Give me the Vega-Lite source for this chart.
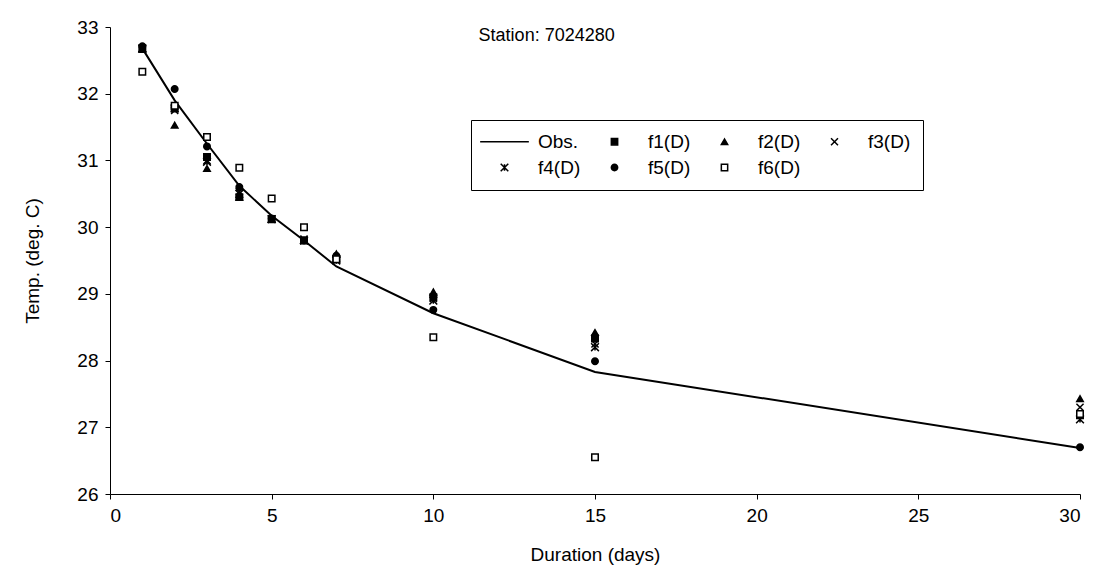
{
  "$schema": "https://vega.github.io/schema/vega-lite/v6.json",
  "width": 970,
  "height": 467,
  "autosize": {"type": "none"},
  "padding": {"left": 110, "top": 27, "right": 13, "bottom": 79},
  "background": "white",
  "config": {
    "view": {"stroke": null},
    "font": "Liberation Sans",
    "axis": {
      "domainColor": "black", "tickColor": "black", "grid": false,
      "labelFont": "Liberation Sans", "labelFontSize": 19, "labelColor": "black",
      "titleFont": "Liberation Sans", "titleFontSize": 19, "titleFontWeight": "normal", "titleColor": "black",
      "tickSize": 5
    },
    "legend": {"labelFont": "Liberation Sans", "labelFontSize": 19, "labelColor": "black"}
  },
  "datasets": {
    "obs": [
      {"day": 1, "temp": 32.68}, {"day": 2, "temp": 31.9}, {"day": 3, "temp": 31.25},
      {"day": 4, "temp": 30.62}, {"day": 5, "temp": 30.17}, {"day": 6, "temp": 29.8},
      {"day": 7, "temp": 29.41}, {"day": 10, "temp": 28.71}, {"day": 15, "temp": 27.83},
      {"day": 30, "temp": 26.69}
    ],
    "fits": [
      {"series": "f1(D)", "day": 1, "temp": 32.67}, {"series": "f1(D)", "day": 2, "temp": 31.78},
      {"series": "f1(D)", "day": 3, "temp": 31.05}, {"series": "f1(D)", "day": 4, "temp": 30.45},
      {"series": "f1(D)", "day": 5, "temp": 30.12}, {"series": "f1(D)", "day": 6, "temp": 29.8},
      {"series": "f1(D)", "day": 7, "temp": 29.52}, {"series": "f1(D)", "day": 10, "temp": 28.95},
      {"series": "f1(D)", "day": 15, "temp": 28.33}, {"series": "f1(D)", "day": 30, "temp": 27.18},
      {"series": "f2(D)", "day": 1, "temp": 32.67}, {"series": "f2(D)", "day": 2, "temp": 31.53},
      {"series": "f2(D)", "day": 3, "temp": 30.88}, {"series": "f2(D)", "day": 4, "temp": 30.45},
      {"series": "f2(D)", "day": 5, "temp": 30.12}, {"series": "f2(D)", "day": 6, "temp": 29.8},
      {"series": "f2(D)", "day": 7, "temp": 29.6}, {"series": "f2(D)", "day": 10, "temp": 29.03},
      {"series": "f2(D)", "day": 15, "temp": 28.42}, {"series": "f2(D)", "day": 30, "temp": 27.43},
      {"series": "f3(D)", "day": 1, "temp": 32.68}, {"series": "f3(D)", "day": 2, "temp": 31.75},
      {"series": "f3(D)", "day": 3, "temp": 31.0}, {"series": "f3(D)", "day": 4, "temp": 30.53},
      {"series": "f3(D)", "day": 5, "temp": 30.12}, {"series": "f3(D)", "day": 6, "temp": 29.82},
      {"series": "f3(D)", "day": 7, "temp": 29.53}, {"series": "f3(D)", "day": 10, "temp": 28.93},
      {"series": "f3(D)", "day": 15, "temp": 28.25}, {"series": "f3(D)", "day": 30, "temp": 27.3},
      {"series": "f4(D)", "day": 1, "temp": 32.68}, {"series": "f4(D)", "day": 2, "temp": 31.78},
      {"series": "f4(D)", "day": 3, "temp": 30.98}, {"series": "f4(D)", "day": 4, "temp": 30.5},
      {"series": "f4(D)", "day": 5, "temp": 30.12}, {"series": "f4(D)", "day": 6, "temp": 29.8},
      {"series": "f4(D)", "day": 7, "temp": 29.5}, {"series": "f4(D)", "day": 10, "temp": 28.9},
      {"series": "f4(D)", "day": 15, "temp": 28.2}, {"series": "f4(D)", "day": 30, "temp": 27.12},
      {"series": "f5(D)", "day": 1, "temp": 32.71}, {"series": "f5(D)", "day": 2, "temp": 32.07},
      {"series": "f5(D)", "day": 3, "temp": 31.21}, {"series": "f5(D)", "day": 4, "temp": 30.6},
      {"series": "f5(D)", "day": 5, "temp": 30.13}, {"series": "f5(D)", "day": 6, "temp": 29.8},
      {"series": "f5(D)", "day": 7, "temp": 29.57}, {"series": "f5(D)", "day": 10, "temp": 28.76},
      {"series": "f5(D)", "day": 15, "temp": 27.99}, {"series": "f5(D)", "day": 30, "temp": 26.7},
      {"series": "f6(D)", "day": 1, "temp": 32.33}, {"series": "f6(D)", "day": 2, "temp": 31.82},
      {"series": "f6(D)", "day": 3, "temp": 31.35}, {"series": "f6(D)", "day": 4, "temp": 30.89},
      {"series": "f6(D)", "day": 5, "temp": 30.43}, {"series": "f6(D)", "day": 6, "temp": 30.0},
      {"series": "f6(D)", "day": 7, "temp": 29.52}, {"series": "f6(D)", "day": 10, "temp": 28.35},
      {"series": "f6(D)", "day": 15, "temp": 26.55}, {"series": "f6(D)", "day": 30, "temp": 27.2}
    ],
    "note": [{"label": "Station: 7024280", "day": 11.4, "temp": 32.87}]
  },
  "layer": [
    {
      "data": {"name": "obs"},
      "mark": {"type": "line", "color": "black", "strokeWidth": 2},
      "encoding": {
        "x": {"field": "day", "type": "quantitative", "scale": {"domain": [0, 30], "nice": false},
          "axis": {"values": [0, 5, 10, 15, 20, 25, 30], "title": "Duration (days)", "labelPadding": 7, "titlePadding": 20}},
        "y": {"field": "temp", "type": "quantitative", "scale": {"domain": [26, 33], "nice": false, "zero": false},
          "axis": {"values": [26, 27, 28, 29, 30, 31, 32, 33], "format": "d", "title": "Temp. (deg. C)", "labelPadding": 7, "titlePadding": 34}}
      }
    },
    {
      "data": {"name": "fits"},
      "mark": {"type": "point", "filled": false, "stroke": "black", "strokeWidth": 1.5, "size": 42, "opacity": 1},
      "encoding": {
        "x": {"field": "day", "type": "quantitative"},
        "y": {"field": "temp", "type": "quantitative"},
        "shape": {"field": "series", "type": "nominal",
          "scale": {"domain": ["Obs.", "f1(D)", "f2(D)", "f3(D)", "f4(D)", "f5(D)", "f6(D)"],
            "range": ["M-7.7,0L7.7,0", "square", "triangle-up", "M-1.1,-1.1L1.1,1.1M1.1,-1.1L-1.1,1.1", "M-1.2,-1.2L1.2,1.2M1.2,-1.2L-1.2,1.2M0,-1L0,1", "circle", "square"]},
          "legend": {"title": null, "orient": "none", "legendX": 361, "legendY": 93, "columns": 4, "direction": "horizontal",
            "columnPadding": 12, "rowPadding": 6, "symbolSize": 40, "symbolOffset": 12, "labelOffset": 24,
            "strokeColor": "black", "padding": 12,
            "encode": {"symbols": {"update": {"stroke": {"value": "black"}, "strokeWidth": {"value": 1.5}}}}}},
        "fill": {"field": "series", "type": "nominal",
          "scale": {"domain": ["Obs.", "f1(D)", "f2(D)", "f3(D)", "f4(D)", "f5(D)", "f6(D)"],
            "range": ["black", "black", "black", "black", "black", "black", "white"]},
          "legend": {"title": null, "orient": "none", "legendX": 361, "legendY": 93, "columns": 4, "direction": "horizontal",
            "columnPadding": 12, "rowPadding": 6, "symbolSize": 40, "symbolOffset": 12, "labelOffset": 24,
            "strokeColor": "black", "padding": 12,
            "encode": {"symbols": {"update": {"stroke": {"value": "black"}, "strokeWidth": {"value": 1.5}}}}}}
      }
    },
    {
      "data": {"name": "note"},
      "mark": {"type": "text", "align": "left", "baseline": "middle", "fontSize": 18, "color": "black"},
      "encoding": {
        "x": {"field": "day", "type": "quantitative"},
        "y": {"field": "temp", "type": "quantitative"},
        "text": {"field": "label"}
      }
    }
  ]
}
